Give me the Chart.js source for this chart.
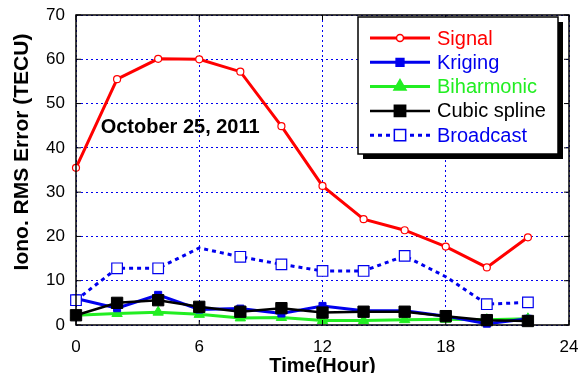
<!DOCTYPE html>
<html>
<head>
<meta charset="utf-8">
<script src="https://cdn.jsdelivr.net/npm/chart.js@4.4.0/dist/chart.umd.min.js"></script>
<style>
html, body { margin: 0; padding: 0; background: #fff; }
#wrap { width: 579px; height: 373px; }
</style>
</head>
<body>
<div id="wrap"><canvas id="rmsChart" width="579" height="373"></canvas></div>
<script>
// data (hour of day vs RMS error in TECU)
const hours = [0, 2, 4, 6, 8, 10, 12, 14, 16, 18, 20, 22];
const signalRms = [35.5, 55.5, 60.1, 60.0, 57.2, 44.9, 31.4, 23.9, 21.4, 17.7, 13.0, 19.8];
const krigingRms = [6.0, 3.8, 6.8, 3.5, 3.7, 2.6, 4.3, 3.2, 3.2, 2.0, 0.3, 1.4];
const biharmonicRms = [2.2, 2.6, 2.9, 2.4, 1.6, 1.7, 1.0, 1.0, 1.2, 1.3, 1.2, 1.4];
const cubicRms = [2.2, 5.0, 5.6, 4.1, 3.0, 3.8, 2.8, 3.0, 3.0, 2.0, 1.1, 0.9];
const broadcastRms = [5.6, 12.8, 12.8, 17.4, 15.4, 13.7, 12.2, 12.2, 15.6, 10.9, 4.7, 5.1];
const xTicks = [0, 6, 12, 18, 24];
const yTicks = [0, 10, 20, 30, 40, 50, 60, 70];
const seriesNames = ['Signal', 'Kriging', 'Biharmonic', 'Cubic spline', 'Broadcast'];

const FONT = '"Liberation Sans", Arial, sans-serif';
const RED = '#ff0000', BLUE = '#0000ee', GREEN = '#22ee22', BLACK = '#000000';

function toPoints(values) {
    return hours.map((h, i) => ({ x: h, y: values[i] }));
}

// 画一个图例里的小标记
function drawMarker(ctx, style, x, y, r, fill, stroke) {
    ctx.save();
    ctx.setLineDash([]);
    ctx.fillStyle = fill;
    ctx.strokeStyle = stroke;
    ctx.lineWidth = 1.5;
    ctx.beginPath();
    if (style === 'circle') {
        ctx.arc(x, y, r, 0, Math.PI * 2);
    } else if (style === 'rect') {
        const s = r * Math.SQRT1_2;
        ctx.rect(x - s, y - s, s * 2, s * 2);
    } else if (style === 'triangle') {
        ctx.moveTo(x, y - r);
        ctx.lineTo(x + r * 0.866, y + r * 0.5);
        ctx.lineTo(x - r * 0.866, y + r * 0.5);
        ctx.closePath();
    }
    ctx.fill();
    ctx.stroke();
    ctx.restore();
}

const decorPlugin = {
    id: 'decor',
    afterDraw(chart) {
        const ctx = chart.ctx;
        const a = chart.chartArea;
        const xs = chart.scales.x, ys = chart.scales.y;
        ctx.save();

        // frame
        ctx.strokeStyle = '#000';
        ctx.lineWidth = 1.5;
        ctx.strokeRect(a.left, a.top, a.right - a.left, a.bottom - a.top);

        // inward ticks on all four sides
        ctx.lineWidth = 1;
        ctx.beginPath();
        xTicks.forEach(v => {
            const px = xs.getPixelForValue(v);
            ctx.moveTo(px, a.bottom); ctx.lineTo(px, a.bottom - 5);
            ctx.moveTo(px, a.top); ctx.lineTo(px, a.top + 5);
        });
        yTicks.forEach(v => {
            const py = ys.getPixelForValue(v);
            ctx.moveTo(a.left, py); ctx.lineTo(a.left + 5, py);
            ctx.moveTo(a.right, py); ctx.lineTo(a.right - 5, py);
        });
        ctx.stroke();

        // date annotation
        ctx.fillStyle = '#000';
        ctx.font = 'bold 20px ' + FONT;
        ctx.textAlign = 'left';
        ctx.textBaseline = 'alphabetic';
        ctx.fillText('October 25, 2011', xs.getPixelForValue(1.2), ys.getPixelForValue(43.4));

        // axis titles
        ctx.textAlign = 'center';
        ctx.fillText('Time(Hour)', (a.left + a.right) / 2, 372);
        ctx.save();
        ctx.translate(28, 152);
        ctx.rotate(-Math.PI / 2);
        ctx.font = 'bold 21px ' + FONT;
        ctx.fillText('Iono. RMS Error (TECU)', 0, 0);
        ctx.restore();

        // legend box with shadow
        const bx = 358, by = 17, bw = 200, bh = 137;
        ctx.fillStyle = '#000';
        ctx.fillRect(bx + 5, by + 5, bw, bh);
        ctx.fillStyle = '#fff';
        ctx.fillRect(bx, by, bw, bh);
        ctx.strokeStyle = '#000';
        ctx.lineWidth = 1.5;
        ctx.strokeRect(bx, by, bw, bh);

        ctx.font = '20px ' + FONT;
        ctx.textAlign = 'left';
        ctx.textBaseline = 'middle';
        seriesNames.forEach((name, i) => {
            const ds = chart.data.datasets.find(d => d.label === name);
            const y = 38 + i * 24.3;
            ctx.strokeStyle = ds.borderColor;
            ctx.lineWidth = ds.borderWidth;
            ctx.setLineDash(ds.borderDash || []);
            ctx.beginPath();
            ctx.moveTo(370, y);
            ctx.lineTo(430, y);
            ctx.stroke();
            ctx.setLineDash([]);
            drawMarker(ctx, ds.pointStyle, 400, y, ds.legendRadius, ds.pointBackgroundColor, ds.pointBorderColor);
            ctx.fillStyle = ds.labelColor;
            ctx.fillText(name, 437, y + 1);
        });

        ctx.restore();
    }
};

const ctx = document.getElementById('rmsChart').getContext('2d');
new Chart(ctx, {
    type: 'line',
    data: {
        datasets: [
            {
                label: 'Signal', data: toPoints(signalRms), order: 1,
                borderColor: RED, borderWidth: 3, pointStyle: 'circle', pointRadius: 3.5,
                pointBackgroundColor: '#fff', pointBorderColor: RED, pointBorderWidth: 1.2,
                legendRadius: 3.5, labelColor: RED
            },
            {
                label: 'Kriging', data: toPoints(krigingRms), order: 4,
                borderColor: BLUE, borderWidth: 3, pointStyle: 'rect', pointRadius: 5,
                pointBackgroundColor: BLUE, pointBorderColor: BLUE, pointBorderWidth: 1,
                legendRadius: 5.5, labelColor: BLUE
            },
            {
                label: 'Biharmonic', data: toPoints(biharmonicRms), order: 5,
                borderColor: GREEN, borderWidth: 3, pointStyle: 'triangle', pointRadius: 6,
                pointBackgroundColor: GREEN, pointBorderColor: GREEN, pointBorderWidth: 1,
                legendRadius: 7, labelColor: GREEN
            },
            {
                label: 'Cubic spline', data: toPoints(cubicRms), order: 3,
                borderColor: BLACK, borderWidth: 2.5, pointStyle: 'rect', pointRadius: 8,
                pointBackgroundColor: BLACK, pointBorderColor: BLACK, pointBorderWidth: 1,
                legendRadius: 8, labelColor: BLACK
            },
            {
                label: 'Broadcast', data: toPoints(broadcastRms), order: 2,
                borderColor: BLUE, borderWidth: 3, borderDash: [4, 4], pointStyle: 'rect',
                pointRadius: [7.5, 7.5, 7.5, 0, 7.5, 7.5, 7.5, 7.5, 7.5, 0, 7.5, 7.5],
                pointBackgroundColor: '#fff', pointBorderColor: BLUE, pointBorderWidth: 1.2,
                legendRadius: 8, labelColor: BLUE
            }
        ]
    },
    options: {
        responsive: false,
        animation: false,
        clip: false,
        layout: { padding: { left: 0, right: 10, top: 15, bottom: 0 } },
        plugins: { legend: { display: false }, tooltip: { enabled: false } },
        elements: { line: { tension: 0 } },
        scales: {
            x: {
                type: 'linear', min: 0, max: 24,
                afterBuildTicks: s => { s.ticks = xTicks.map(v => ({ value: v })); },
                afterFit: s => { s.height = 48; s.paddingLeft = 0; s.paddingRight = 0; },
                grid: { color: BLUE, lineWidth: 1, drawTicks: false, drawOnChartArea: true },
                border: { display: false, dash: [2, 3] },
                ticks: { color: '#000', font: { family: FONT, size: 17 }, padding: 12, maxRotation: 0 }
            },
            y: {
                min: 0, max: 70,
                afterBuildTicks: s => { s.ticks = yTicks.map(v => ({ value: v })); },
                afterFit: s => { s.width = 76; s.paddingTop = 0; s.paddingBottom = 0; },
                grid: { color: BLUE, lineWidth: 1, drawTicks: false },
                border: { display: false, dash: [2, 3] },
                ticks: { color: '#000', font: { family: FONT, size: 17 }, padding: 11 }
            }
        }
    },
    plugins: [decorPlugin]
});
</script>
</body>
</html>
